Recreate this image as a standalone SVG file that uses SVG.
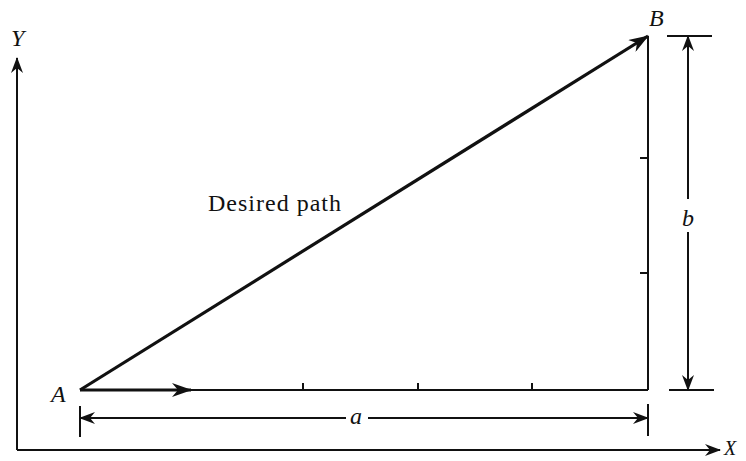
<svg xmlns="http://www.w3.org/2000/svg" width="746" height="461" viewBox="0 0 746 461">
<style>
.ln{stroke:#111;fill:none;stroke-width:2}
.th{stroke:#111;fill:none;stroke-width:3.2}
.lbl{font-family:"Liberation Serif",serif;font-style:italic;font-size:24px;fill:#111}
.txt{font-family:"Liberation Serif",serif;font-size:24px;letter-spacing:1px;fill:#111}
</style>
<defs>
<marker id="ah" viewBox="0 0 16 12" refX="15" refY="6" markerWidth="16" markerHeight="12" markerUnits="userSpaceOnUse" orient="auto-start-reverse">
<path d="M0,0 L16,6 L0,12 L5,6 Z" fill="#111"/>
</marker>
<marker id="ahb" viewBox="0 0 20 14" refX="19" refY="7" markerWidth="20" markerHeight="14" markerUnits="userSpaceOnUse" orient="auto">
<path d="M0,0 L20,7 L0,14 L6,7 Z" fill="#111"/>
</marker>
</defs>
<g id="axes">
<line class="ln" x1="17" y1="450" x2="17" y2="58" marker-end="url(#ah)"/>
<line class="ln" x1="17" y1="450" x2="720" y2="450" marker-end="url(#ah)"/>
<text class="lbl" x="11" y="46">Y</text>
<text class="lbl" x="724" y="455" style="font-size:20px">X</text>
</g>
<g id="triangle">
<line class="ln" x1="80" y1="390" x2="648" y2="390"/>
<line class="ln" x1="648" y1="390" x2="648" y2="36"/>
<line class="ln" x1="303" y1="390" x2="303" y2="383"/>
<line class="ln" x1="418" y1="390" x2="418" y2="383"/>
<line class="ln" x1="532" y1="390" x2="532" y2="383"/>
<line class="ln" x1="648" y1="158" x2="640" y2="158"/>
<line class="ln" x1="648" y1="273" x2="640" y2="273"/>
</g>
<g id="connectors">
<line class="th" x1="80" y1="390" x2="648" y2="36" marker-end="url(#ahb)"/>
<line class="th" x1="80" y1="390" x2="191" y2="390" marker-end="url(#ahb)"/>
</g>
<g id="node-A"><text class="lbl" x="51" y="402">A</text></g>
<g id="node-B"><text class="lbl" x="649" y="26">B</text></g>
<g id="label-path"><text class="txt" x="208" y="211">Desired path</text></g>
<g id="dim-a">
<line class="ln" x1="80" y1="406" x2="80" y2="437"/>
<line class="ln" x1="648" y1="404" x2="648" y2="436"/>
<line class="ln" x1="80" y1="418" x2="346" y2="418" marker-start="url(#ah)"/>
<line class="ln" x1="368" y1="418" x2="648" y2="418" marker-end="url(#ah)"/>
<text class="lbl" x="350" y="424">a</text>
</g>
<g id="dim-b">
<line class="ln" x1="667" y1="36" x2="712" y2="36"/>
<line class="ln" x1="669" y1="390" x2="714" y2="390"/>
<line class="ln" x1="688" y1="36" x2="688" y2="199" marker-start="url(#ah)"/>
<line class="ln" x1="688" y1="232" x2="688" y2="390" marker-end="url(#ah)"/>
<text class="lbl" x="682" y="226">b</text>
</g>
</svg>
